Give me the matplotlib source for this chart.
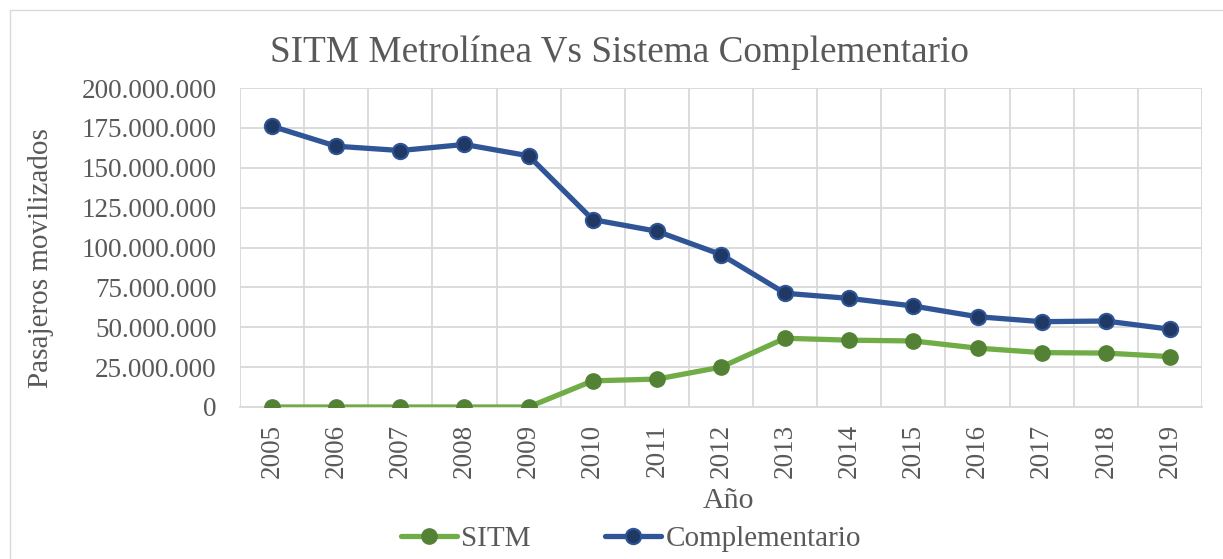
import matplotlib
matplotlib.use("Agg")
import matplotlib.pyplot as plt
from matplotlib.ticker import FuncFormatter, MultipleLocator
from matplotlib.patches import Rectangle

years = ["2005", "2006", "2007", "2008", "2009", "2010", "2011", "2012",
         "2013", "2014", "2015", "2016", "2017", "2018", "2019"]
sitm = [0, 0, 0, 0, 0, 16.4e6, 17.5e6, 25.0e6, 43.1e6, 41.9e6, 41.4e6,
        36.9e6, 34.1e6, 33.8e6, 31.6e6]
complementario = [176.0e6, 163.5e6, 160.8e6, 164.6e6, 157.5e6, 117.5e6, 110.2e6,
                  95.6e6, 71.3e6, 68.1e6, 63.3e6, 56.6e6, 53.5e6, 53.9e6, 48.8e6]

plt.rcParams['font.family'] = ['Liberation Serif', 'DejaVu Serif']
TXT = '#595959'
GRID = '#D9D9D9'

W, H = 1223, 559
fig = plt.figure(figsize=(W / 100, H / 100), dpi=100)
fig.patch.set_facecolor('white')

# outer chart border
fig.patches.append(Rectangle((10 / W, -0.1), 1.2, (H - 10) / H + 0.1,
                             transform=fig.transFigure, fill=False,
                             edgecolor=GRID, linewidth=1.0))

left, right, top, bottom = 240, 1202, 88, 407
ax = fig.add_axes([left / W, 1 - bottom / H, (right - left) / W, (bottom - top) / H])

x = list(range(len(years)))
ax.plot(x, sitm, color='#70AD47', linewidth=3.8, marker='o', markersize=11,
        markerfacecolor='#548235', markeredgecolor='#548235', label='SITM',
        solid_capstyle='round', zorder=3)
ax.plot(x, complementario, color='#2F5597', linewidth=3.8, marker='o', markersize=11,
        markerfacecolor='#1F3864', markeredgecolor='#2F5597', markeredgewidth=1.5,
        label='Complementario', solid_capstyle='round', zorder=3)

ax.set_xlim(-0.5, len(years) - 0.5)
ax.set_ylim(0, 200e6)
ax.yaxis.set_major_locator(MultipleLocator(25e6))
ax.yaxis.set_major_formatter(FuncFormatter(lambda v, p: f"{int(round(v)):,}".replace(',', '.')))
ax.set_xticks(x)
ax.set_xticklabels(years, rotation=90)
ax.set_xticks([i - 0.5 for i in range(len(years) + 1)], minor=True)

ax.grid(True, which='major', axis='y', color=GRID, linewidth=1.3)
ax.grid(True, which='minor', axis='x', color=GRID, linewidth=1.3)
ax.set_axisbelow(True)
for s in ax.spines.values():
    s.set_visible(False)
ax.spines['bottom'].set_visible(True)
ax.spines['bottom'].set_color(GRID)
ax.spines['bottom'].set_linewidth(1.3)
ax.tick_params(axis='both', which='both', length=0, colors=TXT, labelsize=19.5)
ax.tick_params(axis='y', pad=17)
ax.tick_params(axis='x', pad=12)

fig.text(619 / W, 1 - 53 / H, 'SITM Metrolínea Vs Sistema Complementario',
         ha='center', va='center', fontsize=26.8, color=TXT)
fig.text(728 / W, 1 - 501 / H, 'Año', ha='center', va='center', fontsize=21.5, color=TXT)
fig.text(41 / W, 1 - 258 / H, 'Pasajeros movilizados', ha='center', va='center',
         rotation=90, fontsize=21, color=TXT)

leg = fig.legend(loc='center', bbox_to_anchor=(631 / W, 1 - 539 / H), ncol=2,
                 frameon=False, fontsize=21, handlelength=1.92, columnspacing=2.57,
                 handletextpad=0.14, labelcolor=TXT, borderaxespad=0, borderpad=0)

fig.savefig('out.png', dpi=100, facecolor='white')
